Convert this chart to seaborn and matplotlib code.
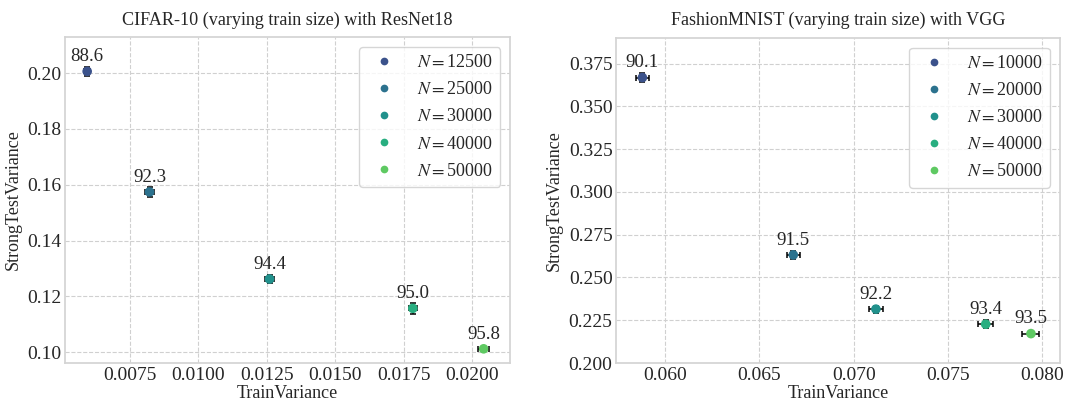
import numpy as np
import pandas as pd
import matplotlib
matplotlib.use("Agg")
import matplotlib.pyplot as plt
import seaborn as sns

# CIFAR-10 with ResNet18
cifar_n = [12500, 25000, 30000, 40000, 50000]
cifar_train_var = [0.00593, 0.00821, 0.01260, 0.01784, 0.02043]
cifar_test_var = [0.2006, 0.1574, 0.1262, 0.1157, 0.1012]
cifar_train_err = [0.00012, 0.00018, 0.00016, 0.00014, 0.00020]
cifar_test_err = [0.0016, 0.0018, 0.0015, 0.0020, 0.0008]
cifar_acc = [88.6, 92.3, 94.4, 95.0, 95.8]

# FashionMNIST with VGG
fmnist_n = [10000, 20000, 30000, 40000, 50000]
fmnist_train_var = [0.0588, 0.0668, 0.07118, 0.0770, 0.0794]
fmnist_test_var = [0.3668, 0.2632, 0.2315, 0.2227, 0.2172]
fmnist_train_err = [0.00035, 0.00035, 0.00035, 0.00040, 0.00045]
fmnist_test_err = [0.0025, 0.0025, 0.0020, 0.0025, 0.0010]
fmnist_acc = [90.1, 91.5, 92.2, 93.4, 93.5]

sns.set_theme(style="whitegrid")
plt.rcParams.update({
    "font.family": ["Liberation Serif", "DejaVu Serif"],
    "mathtext.fontset": "stix",
    "grid.linestyle": "--",
    "grid.color": "#d0d0d0",
    "grid.linewidth": 0.8,
    "axes.edgecolor": "#d4d4d4",
})

colors = sns.color_palette("viridis", 7)[1:6]

fig = plt.figure(figsize=(10.91, 4.07), dpi=100)
ax1 = fig.add_axes([0.0596, 0.108, 0.408, 0.801])
ax2 = fig.add_axes([0.5646, 0.108, 0.407, 0.799])


def panel(ax, ns, xv, yv, xe, ye, acc, title, xlim, ylim):
    labels = [f"$N=${n}" for n in ns]
    df = pd.DataFrame({"TrainVariance": xv, "StrongTestVariance": yv, "label": labels})
    ax.errorbar(df["TrainVariance"], df["StrongTestVariance"], xerr=xe, yerr=ye,
                fmt="none", ecolor="black", elinewidth=1.1, capsize=2.5,
                capthick=1.1, zorder=2)
    sns.scatterplot(data=df, x="TrainVariance", y="StrongTestVariance", hue="label",
                    hue_order=labels, palette=colors, s=48, linewidth=0,
                    zorder=3, ax=ax)
    for x, y, a in zip(xv, yv, acc):
        ax.annotate(f"{a:.1f}", (x, y), xytext=(0, 4.5), textcoords="offset points",
                    ha="center", va="bottom", fontsize=13.6, color="#262626")
    leg = ax.get_legend()
    handles = leg.legend_handles
    texts = [t.get_text() for t in leg.texts]
    leg.remove()
    ax.legend(handles, texts, loc="upper right", fontsize=13, frameon=True,
              borderaxespad=0.55, labelspacing=0.56, markerscale=0.8)
    ax.set_xlim(*xlim)
    ax.set_ylim(*ylim)
    ax.set_title(title, fontsize=13.1, pad=9)
    ax.set_xlabel("TrainVariance", fontsize=13, labelpad=1)
    ax.set_ylabel("StrongTestVariance", fontsize=13, labelpad=4)
    ax.tick_params(axis="both", labelsize=14, length=0, pad=2.5)


panel(ax1, cifar_n, cifar_train_var, cifar_test_var, cifar_train_err, cifar_test_err,
      cifar_acc, "CIFAR-10 (varying train size) with ResNet18",
      (0.00512, 0.0214), (0.0961, 0.2129))
ax1.set_xticks([0.0075, 0.0100, 0.0125, 0.0150, 0.0175, 0.0200])
ax1.set_yticks([0.10, 0.12, 0.14, 0.16, 0.18, 0.20])

panel(ax2, fmnist_n, fmnist_train_var, fmnist_test_var, fmnist_train_err, fmnist_test_err,
      fmnist_acc, "FashionMNIST (varying train size) with VGG",
      (0.0574, 0.08094), (0.200, 0.390))
ax2.set_xticks([0.060, 0.065, 0.070, 0.075, 0.080])
ax2.set_yticks([0.200, 0.225, 0.250, 0.275, 0.300, 0.325, 0.350, 0.375])

fig.savefig("out.png", dpi=100)
